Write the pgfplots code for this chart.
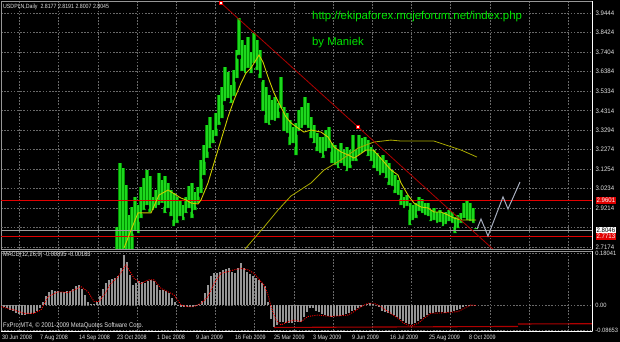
\documentclass[border=0pt]{standalone}
\usepackage{pgfplots}
\pgfplotsset{compat=1.18}
\usepackage{pgfplotstable}
\usepackage{fontspec}
\setmainfont{Liberation Sans}
\newfontfamily\mtfont[FakeStretch=0.86]{Liberation Sans}
\newfontfamily\pxfont[FakeStretch=0.93]{Liberation Sans}
\definecolor{gridc}{RGB}{105,105,105}
\definecolor{framec}{RGB}{150,150,150}
\definecolor{barg}{RGB}{0,145,0}
\definecolor{barl}{RGB}{30,215,30}
\definecolor{maf}{RGB}{205,205,0}
\definecolor{mas}{RGB}{170,170,0}
\definecolor{trend}{RGB}{175,0,0}
\definecolor{lvl}{RGB}{225,0,0}
\definecolor{proj}{RGB}{165,172,188}
\definecolor{histc}{RGB}{150,150,150}
\definecolor{urlg}{RGB}{0,230,0}
\definecolor{ltext}{RGB}{225,225,225}

\pgfplotstableread{
x hi lo
116 2.822 2.65
119 3.158 2.65
122 3.132 2.65
125 3.042 2.65
128 2.885 2.65
131 2.927 2.65
134 2.980 2.796
137 2.938 2.780
140 3.032 2.859
143 3.079 2.901
146 3.121 2.927
149 3.090 2.890
152 2.980 2.901
155 3.016 2.911
158 3.105 2.927
161 3.069 2.938
164 3.090 2.885
167 3.053 2.911
170 3.016 2.869
173 3.000 2.817
176 2.980 2.833
179 2.964 2.869
182 2.938 2.848
185 2.980 2.885
188 3.037 2.911
191 3.053 2.859
194 3.006 2.901
197 3.032 2.938
200 3.174 2.990
203 3.252 3.084
206 3.357 3.174
209 3.399 3.226
212 3.331 3.252
215 3.420 3.289
218 3.514 3.347
221 3.556 3.383
224 3.661 3.472
227 3.635 3.488
230 3.567 3.462
233 3.646 3.499
236 3.750 3.593
238 3.918 3.714
241 3.803 3.630
244 3.777 3.619
247 3.819 3.646
250 3.740 3.619
253 3.840 3.672
256 3.803 3.635
259 3.750 3.593
262 3.593 3.420
265 3.556 3.357
268 3.514 3.347
271 3.488 3.373
274 3.504 3.368
277 3.472 3.383
280 3.609 3.436
283 3.451 3.315
286 3.420 3.305
289 3.383 3.242
292 3.347 3.252
295 3.368 3.189
298 3.436 3.315
301 3.451 3.331
304 3.504 3.347
307 3.472 3.331
310 3.399 3.278
313 3.357 3.252
316 3.315 3.210
319 3.294 3.200
322 3.294 3.174
325 3.331 3.210
328 3.347 3.226
331 3.263 3.147
334 3.252 3.137
337 3.226 3.121
340 3.263 3.147
343 3.226 3.132
346 3.242 3.105
349 3.226 3.121
352 3.305 3.158
355 3.226 3.158
358 3.305 3.189
361 3.289 3.200
364 3.294 3.210
367 3.278 3.184
370 3.242 3.158
373 3.226 3.121
376 3.210 3.105
379 3.189 3.084
382 3.200 3.095
385 3.174 3.069
388 3.158 3.032
391 3.121 3.027
394 3.095 2.990
397 3.069 2.980
400 3.016 2.927
403 2.980 2.911
406 2.990 2.922
409 2.948 2.822
412 2.938 2.848
415 2.948 2.859
418 2.980 2.896
421 2.969 2.885
424 2.948 2.875
427 2.948 2.869
430 2.911 2.843
433 2.922 2.848
436 2.901 2.833
439 2.911 2.838
442 2.896 2.817
445 2.901 2.827
448 2.911 2.843
451 2.901 2.833
454 2.875 2.780
457 2.885 2.806
460 2.896 2.833
463 2.948 2.859
466 2.964 2.848
469 2.948 2.843
472 2.922 2.833
475 2.819 2.801
}\bars

\pgfplotstableread{
x y
123 2.712
130 2.806
137 2.896
150 2.896
158 2.990
167 3.016
172 3.000
180 2.974
185 2.964
190 2.948
197 2.943
200 2.964
207 3.053
213 3.158
220 3.278
227 3.399
233 3.488
240 3.577
245 3.630
250 3.656
255 3.698
258 3.724
262 3.687
267 3.609
273 3.525
280 3.451
285 3.399
290 3.368
297 3.341
303 3.320
310 3.331
320 3.320
327 3.294
333 3.242
340 3.216
347 3.200
353 3.184
358 3.200
365 3.226
372 3.226
377 3.200
383 3.163
390 3.121
397 3.095
400 3.053
407 2.990
413 2.948
420 2.927
427 2.922
433 2.901
440 2.901
447 2.885
453 2.869
460 2.859
467 2.859
475 2.859
}\mafast

\pgfplotstableread{
x y
238 2.670
263 2.822
277 2.911
290 2.985
310 3.053
323 3.121
340 3.174
357 3.236
373 3.268
390 3.278
400 3.273
433 3.273
445 3.252
460 3.226
476 3.189
}\maslow

\pgfplotstableread{
x h
0 -0.006
3 -0.008
6 -0.012
9 -0.016
12 -0.022
15 -0.028
18 -0.032
21 -0.035
24 -0.034
27 -0.033
30 -0.032
33 -0.028
36 -0.022
39 -0.010
42 0.012
45 0.030
48 0.045
51 0.052
54 0.050
57 0.048
60 0.046
63 0.046
66 0.047
69 0.050
72 0.056
75 0.065
78 0.069
81 0.055
84 0.035
87 0.012
90 0.002
93 0.004
96 0.010
99 0.030
102 0.055
105 0.075
108 0.088
111 0.091
114 0.094
117 0.100
120 0.130
123 0.174
126 0.150
129 0.105
132 0.070
135 0.076
138 0.085
141 0.080
144 0.076
147 0.085
150 0.087
153 0.082
156 0.068
159 0.052
162 0.052
165 0.050
168 0.040
171 0.025
174 0.010
177 0.001
180 -0.006
183 -0.008
186 -0.008
189 -0.007
192 -0.006
195 -0.004
198 0.003
201 0.015
204 0.040
207 0.070
210 0.100
213 0.110
216 0.112
219 0.115
222 0.120
225 0.125
228 0.127
231 0.116
234 0.112
237 0.130
240 0.145
243 0.130
246 0.116
249 0.107
252 0.100
255 0.092
258 0.086
261 0.078
264 0.065
267 0.010
270 -0.050
273 -0.075
276 -0.068
279 -0.060
282 -0.058
285 -0.062
288 -0.064
291 -0.063
294 -0.060
297 -0.058
300 -0.058
303 -0.042
306 -0.026
309 -0.010
312 -0.010
315 -0.020
318 -0.025
321 -0.032
324 -0.036
327 -0.039
330 -0.040
333 -0.039
336 -0.038
339 -0.037
342 -0.035
345 -0.032
348 -0.027
351 -0.021
354 -0.016
357 -0.011
360 -0.006
363 0.000
366 0.004
369 0.006
372 0.005
375 0.000
378 -0.008
381 -0.020
384 -0.025
387 -0.029
390 -0.032
393 -0.035
396 -0.043
399 -0.050
402 -0.056
405 -0.062
408 -0.065
411 -0.066
414 -0.062
417 -0.057
420 -0.048
423 -0.040
426 -0.034
429 -0.029
432 -0.027
435 -0.024
438 -0.023
441 -0.026
444 -0.027
447 -0.025
450 -0.023
453 -0.020
456 -0.017
459 -0.013
462 -0.007
465 -0.004
468 -0.001
471 0.000
474 -0.003
}\macd

\pgfplotstableread{
x s
0 -0.006
13 -0.017
23 -0.029
33 -0.029
40 -0.017
47 0.029
57 0.046
67 0.043
73 0.052
80 0.064
87 0.046
93 0.012
98 0.012
103 0.035
110 0.075
117 0.098
125 0.139
128 0.122
133 0.093
140 0.075
147 0.087
153 0.087
160 0.058
167 0.046
173 0.035
180 0.000
187 -0.006
193 -0.006
200 0.006
207 0.029
213 0.075
220 0.110
227 0.116
233 0.122
240 0.127
247 0.122
253 0.110
260 0.081
263 0.069
267 0.035
270 -0.006
275 -0.052
280 -0.069
287 -0.058
293 -0.052
300 -0.058
307 -0.040
317 -0.035
330 -0.040
337 -0.038
347 -0.035
353 -0.023
360 -0.006
367 0.006
373 0.006
380 -0.006
387 -0.023
397 -0.046
403 -0.064
410 -0.073
417 -0.064
423 -0.046
430 -0.029
443 -0.027
457 -0.023
463 -0.012
470 0.000
475 -0.002
}\signal

\pgfplotsset{
  mtaxis/.style={
    anchor=south west, x=1bp, xmin=0, xmax=591,
    axis line style={framec, line width=0.8bp},
    major tick length=0pt,
    xtick={18.5,57.7,96.9,136.1,175.3,214.5,253.7,292.9,332.1,371.3,410.5,449.7,488.9,528.1,567.3},
    xticklabels={},
    xmajorgrids, ymajorgrids,
    grid style={gridc, dash pattern=on 1.6bp off 1.6bp, line width=0.7bp},
    yticklabel pos=right,
    yticklabel style={font=\pxfont\fontsize{6.5bp}{7bp}\selectfont, text=ltext, anchor=west, inner sep=0pt, xshift=3.5bp},
    clip mode=individual,
  }
}

\begin{document}
\begin{tikzpicture}
\useasboundingbox (0,0) rectangle (620bp,342bp);
\fill[black] (0,0) rectangle (620bp,342bp);

% ---------- price panel ----------
\begin{axis}[mtaxis, at={(1bp,93bp)}, y=190.7bp, ymin=2.7069, ymax=4.0073,
  ytick={3.9444,3.8424,3.7404,3.6384,3.5354,3.4314,3.3294,3.2274,3.1254,3.0234,2.9214,2.7174},
  yticklabels={3.9444,3.8424,3.7404,3.6384,3.5334,3.4314,3.3294,3.2274,3.1254,3.0234,2.9214,2.7174},
  extra y ticks={2.8194}, extra y tick labels={}]
\addplot[only marks, mark=none, error bars/.cd, y dir=plus, y explicit, error mark=none,
  error bar style={draw=barg, line width=3.15bp}]
  table[x=x, y=lo, y error expr=\thisrow{hi}-\thisrow{lo}] {\bars};
\addplot[only marks, mark=none, error bars/.cd, y dir=plus, y explicit, error mark=none,
  error bar style={draw=barl, line width=1.1bp}]
  table[x=x, y=lo, y error expr=\thisrow{hi}-\thisrow{lo}] {\bars};
\addplot[lvl, line width=1bp] coordinates {(0,2.9601) (591,2.9601)};
\addplot[lvl, line width=1bp] coordinates {(0,2.7713) (591,2.7713)};
\addplot[gray!75, line width=0.9bp] coordinates {(0,2.8046) (591,2.8046)};
\addplot[mas, line width=0.8bp] table[x=x,y=y] {\maslow};
\addplot[maf, line width=0.9bp] table[x=x,y=y] {\mafast};
\addplot[trend, line width=0.8bp] coordinates {(220,3.997) (357,3.347) (500,2.668)};
\addplot[only marks, mark=square*, mark size=1.6bp, mark options={fill=white, draw=red, line width=0.6bp}] coordinates {(220,3.997) (357,3.347)};
\addplot[proj, line width=1bp] coordinates {(476,2.812) (480,2.864) (487,2.775) (502,2.980) (507,2.917) (519,3.058)};
\draw[white, line width=0.8bp] (rel axis cs:1,0) -- (rel axis cs:1,1);
\node[fill=lvl, text=white, anchor=west, inner xsep=1bp, inner ysep=1bp, font=\pxfont\fontsize{6.5bp}{7bp}\selectfont] at (axis cs:591,2.9601) [xshift=3.5bp] {2.9601};
\node[fill=white, text=black, anchor=west, inner xsep=1bp, inner ysep=1bp, font=\pxfont\fontsize{6.5bp}{7bp}\selectfont] at (axis cs:591,2.8046) [xshift=3.5bp] {2.8046};
\node[fill=lvl, text=white, anchor=west, inner xsep=1bp, inner ysep=1bp, font=\pxfont\fontsize{6.5bp}{7bp}\selectfont] at (axis cs:591,2.7713) [xshift=3.5bp] {2.7713};
\end{axis}

% ---------- MACD panel ----------
\begin{axis}[mtaxis, at={(1bp,11bp)}, y=288bp, ymin=-0.0903, ymax=0.1874,
  ytick={-0.08653,0,0.18041}, yticklabels={-0.08653,0.00,0.18041},
  yticklabel style={font=\pxfont\fontsize{6.2bp}{7bp}\selectfont, xshift=-0.3bp}]
\addplot[histc, ycomb, line width=1.4bp] table[x=x,y=h] {\macd};
\addplot[red, line width=0.9bp, dash pattern=on 1bp off 1.2bp] table[x=x,y=s] {\signal};
\addplot[trend, line width=1.1bp] coordinates {(273,-0.078) (517,-0.0745)};
\addplot[trend, line width=1.1bp] coordinates {(517,-0.066) (591,-0.065)};
\draw[white, line width=0.8bp] (rel axis cs:1,0) -- (rel axis cs:1,1);
\draw[white, line width=0.8bp] (rel axis cs:0,0) -- (rel axis cs:1,0);
\end{axis}

% ---------- texts ----------
\node[anchor=base west, inner sep=0pt, text=ltext, font=\mtfont\fontsize{6.1bp}{7bp}\selectfont] at (3bp,333bp) {USDPLN,Daily\ \ 2.8177 2.8191 2.8007 2.8045};
\node[anchor=base west, inner sep=0pt, text=urlg, font=\fontsize{11.4bp}{13bp}\selectfont] at (312bp,322bp) {http://ekipaforex.mojeforum.net/index.php};
\node[anchor=base west, inner sep=0pt, text=urlg, font=\fontsize{11.3bp}{13bp}\selectfont] at (312bp,296bp) {by Maniek};
\node[anchor=base west, inner sep=0pt, text=ltext, font=\mtfont\fontsize{6.6bp}{7bp}\selectfont] at (3bp,85bp) {MACD(12,26,9) -0.00895 -0.00183};
\node[anchor=base west, inner sep=0pt, text=ltext, font=\mtfont\fontsize{6.8bp}{7bp}\selectfont] at (3bp,14.5bp) {FxPro MT4, © 2001-2009 MetaQuotes Software Corp.};
\foreach \xx/\lab in {2/30 Jun 2008, 40/7 Aug 2008, 79/14 Sep 2008, 117/23 Oct 2008, 157/1 Dec 2008, 196/9 Jan 2009, 235/16 Feb 2009, 274/25 Mar 2009, 313/3 May 2009, 352/9 Jun 2009, 390/16 Jul 2009, 429/25 Aug 2009, 469/8 Oct 2009}
  \node[anchor=base west, inner sep=0pt, text=ltext, font=\mtfont\fontsize{6.3bp}{7bp}\selectfont] at (\xx bp,2.5bp) {\lab};
\end{tikzpicture}
\end{document}
